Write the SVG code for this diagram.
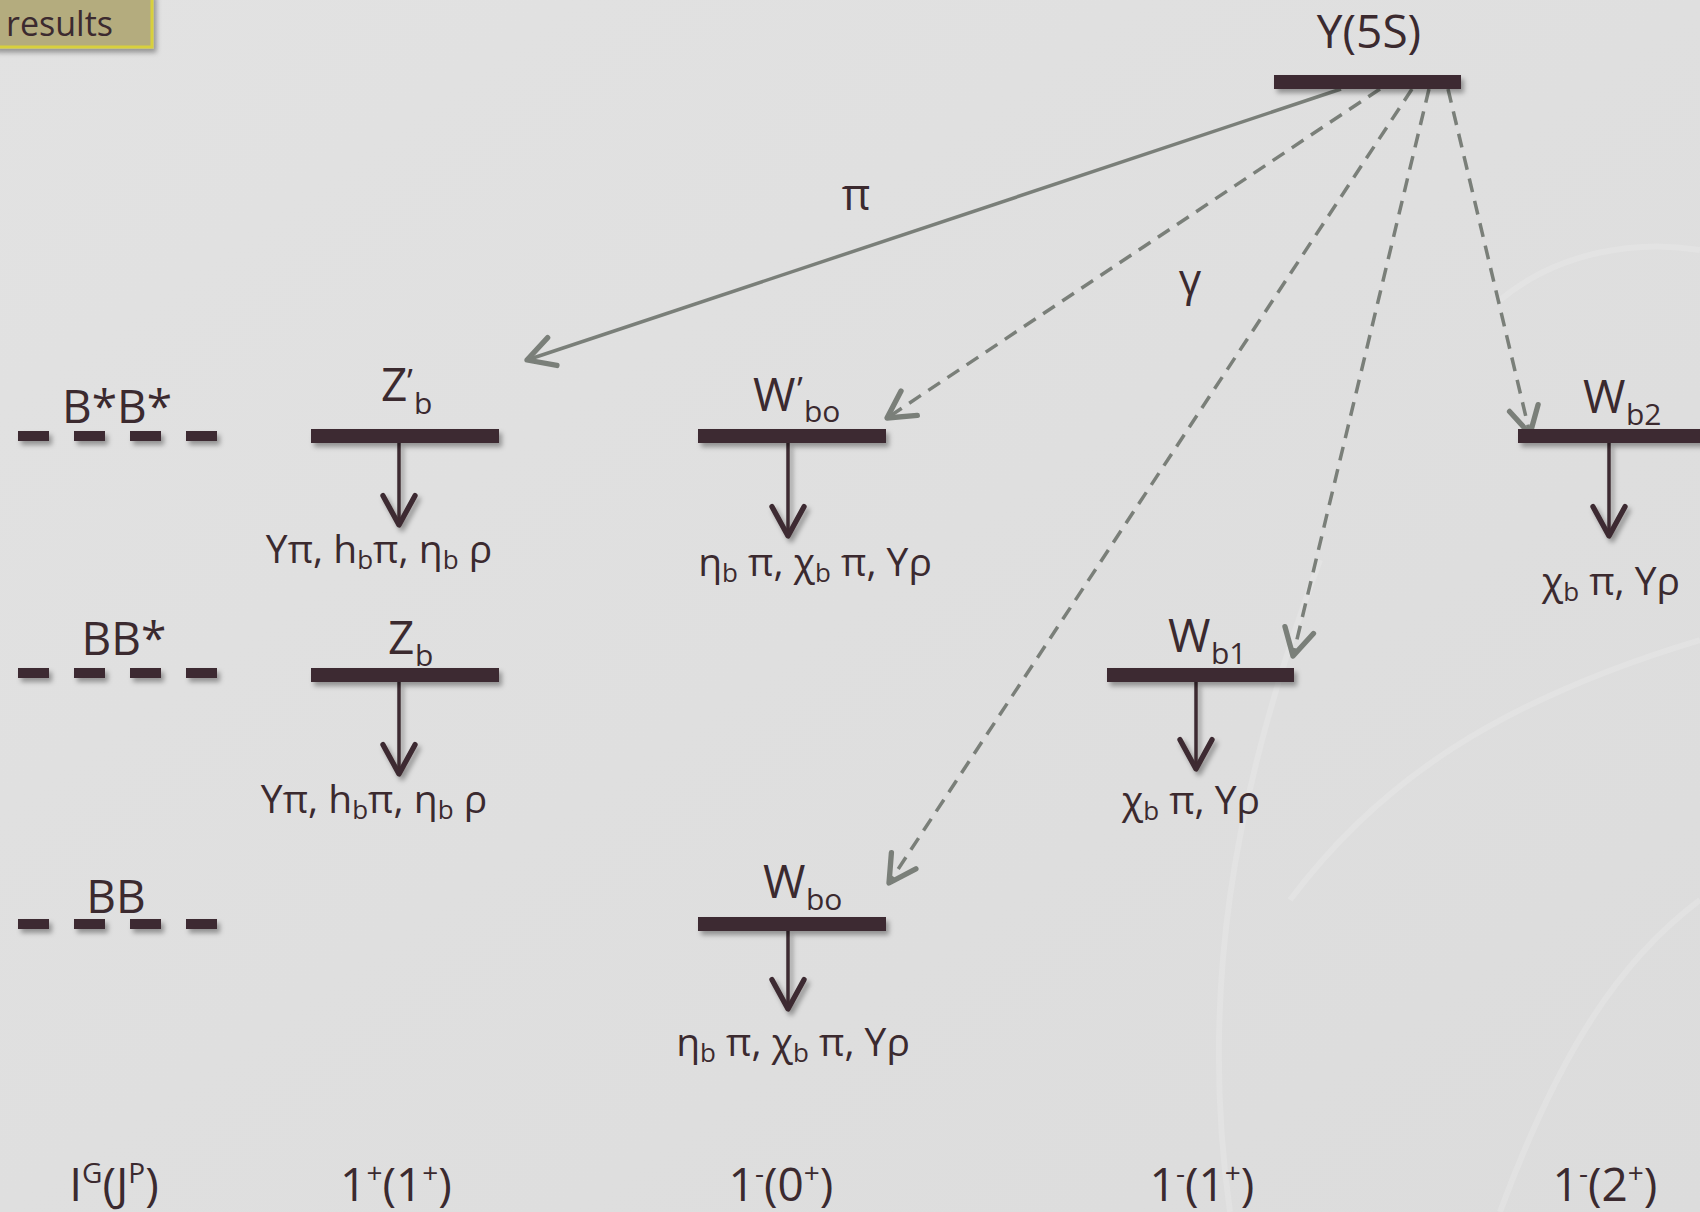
<svg xmlns="http://www.w3.org/2000/svg" width="1700" height="1212" viewBox="0 0 1700 1212">
<defs>
<style>
.t{font-family:"Open Sans","Noto Sans","DejaVu Sans",sans-serif;fill:#3b2a2f}
.big{font-size:46px}
.sub{font-size:30px}
.dec{font-size:39px}
.dsub{font-size:26px}
.bar{fill:#3d2b30}
.gray{stroke:#7a7f79;stroke-width:3.5;fill:none}
.dash{stroke-dasharray:14 9}
.stem{stroke:#3d2b30;stroke-width:3.5;fill:none}
</style>
<filter id="sh" x="-10%" y="-50%" width="130%" height="250%">
<feDropShadow dx="3" dy="4" stdDeviation="2.5" flood-color="#000" flood-opacity="0.35"/>
</filter>
<marker id="ga" markerUnits="userSpaceOnUse" orient="auto" refX="0" refY="0" markerWidth="40" markerHeight="40" viewBox="-25 -15 30 30" overflow="visible">
<path d="M-20,-11 L0,0 L-20,11" fill="none" stroke="#7a7f79" stroke-width="4" stroke-linecap="round" stroke-linejoin="round"/>
</marker>
<marker id="da" markerUnits="userSpaceOnUse" orient="auto" refX="0" refY="0" markerWidth="40" markerHeight="40" viewBox="-25 -15 30 30" overflow="visible">
<path d="M-22,-12 L0,0 L-22,12" fill="none" stroke="#3d2b30" stroke-width="4" stroke-linecap="round" stroke-linejoin="round"/>
</marker>
<linearGradient id="bg" x1="0" y1="0" x2="1" y2="1">
<stop offset="0" stop-color="#e2e2e2"/>
<stop offset="1" stop-color="#dcdcdc"/>
</linearGradient>
</defs>
<rect width="1700" height="1212" fill="url(#bg)"/>
<g id="background" fill="none" stroke="#ffffff" stroke-opacity="0.15" stroke-width="6">
<path d="M1230,1212 C1200,1000 1230,800 1320,560"/>
<path d="M1290,900 C1380,780 1500,700 1700,640"/>
<path d="M1500,1212 C1560,1050 1620,960 1700,900"/>
<path d="M1500,300 C1560,250 1640,240 1700,250"/>
</g>

<g id="results">
<rect x="-6" y="-6" width="158" height="53" fill="#b4ac7e" stroke="#d8d03c" stroke-width="3" filter="url(#sh)"/>
<text class="t" x="6" y="36" font-size="34">results</text>
</g>

<g id="connectors">
<line class="gray" x1="1341" y1="89" x2="527" y2="360" marker-end="url(#ga)"/>
<line class="gray dash" x1="1380" y1="89" x2="887" y2="418" marker-end="url(#ga)"/>
<line class="gray dash" x1="1412" y1="89" x2="889" y2="883" marker-end="url(#ga)"/>
<line class="gray dash" x1="1429" y1="89" x2="1293" y2="656" marker-end="url(#ga)"/>
<line class="gray dash" x1="1448" y1="89" x2="1530" y2="434" marker-end="url(#ga)"/>
<g filter="url(#sh)">
<line class="stem" x1="399" y1="443" x2="399" y2="525" marker-end="url(#da)"/>
<line class="stem" x1="788" y1="443" x2="788" y2="536" marker-end="url(#da)"/>
<line class="stem" x1="1609" y1="443" x2="1609" y2="536" marker-end="url(#da)"/>
<line class="stem" x1="399" y1="682" x2="399" y2="774" marker-end="url(#da)"/>
<line class="stem" x1="1196" y1="682" x2="1196" y2="769" marker-end="url(#da)"/>
<line class="stem" x1="788" y1="931" x2="788" y2="1009" marker-end="url(#da)"/>
</g>
<text class="t" x="856" y="210" font-size="44" text-anchor="middle">π</text>
<text class="t" x="1190" y="295" font-size="44" text-anchor="middle">γ</text>
</g>

<g id="Y5S">
<text class="t big" x="1369" y="48" text-anchor="middle">Υ(5S)</text>
<rect class="bar" x="1274" y="75" width="187" height="14" filter="url(#sh)"/>
</g>

<g id="thresholds" class="bar" filter="url(#sh)">
<rect x="18" y="431" width="31" height="10"/><rect x="74" y="431" width="31" height="10"/><rect x="130" y="431" width="31" height="10"/><rect x="186" y="431" width="31" height="10"/>
<rect x="18" y="668" width="31" height="10"/><rect x="74" y="668" width="31" height="10"/><rect x="130" y="668" width="31" height="10"/><rect x="186" y="668" width="31" height="10"/>
<rect x="18" y="919" width="31" height="10"/><rect x="74" y="919" width="31" height="10"/><rect x="130" y="919" width="31" height="10"/><rect x="186" y="919" width="31" height="10"/>
</g>
<g id="threshold-labels">
<text class="t big" x="117" y="423" text-anchor="middle">B*B*</text>
<text class="t big" x="124" y="655" text-anchor="middle">BB*</text>
<text class="t big" x="116" y="913" text-anchor="middle">BB</text>
</g>

<g id="Zb_prime">
<text class="t big" x="381" y="401">Z</text>
<text class="t" x="407" y="394" font-size="34">’</text>
<text class="t sub" x="414" y="414">b</text>
<rect class="bar" x="311" y="429" width="188" height="14" filter="url(#sh)"/>
<text class="t dec" x="379" y="563" text-anchor="middle">Υπ, h<tspan class="dsub" dy="6">b</tspan><tspan dy="-6">π,  η</tspan><tspan class="dsub" dy="6">b</tspan><tspan dy="-6"> ρ</tspan></text>
</g>

<g id="Wbo_prime">
<text class="t big" x="753" y="411">W</text>
<text class="t" x="797" y="402" font-size="34">’</text>
<text class="t sub" x="804" y="422">bo</text>
<rect class="bar" x="698" y="429" width="188" height="14" filter="url(#sh)"/>
<text class="t dec" x="815" y="576" text-anchor="middle">η<tspan class="dsub" dy="6">b</tspan><tspan dy="-6"> π, χ</tspan><tspan class="dsub" dy="6">b</tspan><tspan dy="-6"> π, Υρ</tspan></text>
</g>

<g id="Wb2">
<text class="t big" x="1583" y="413">W</text>
<text class="t sub" x="1626" y="425">b2</text>
<rect class="bar" x="1518" y="429" width="190" height="14" filter="url(#sh)"/>
<text class="t dec" x="1611" y="595" text-anchor="middle">χ<tspan class="dsub" dy="6">b</tspan><tspan dy="-6"> π, Υρ</tspan></text>
</g>

<g id="Zb">
<text class="t big" x="388" y="654">Z</text>
<text class="t sub" x="415" y="666">b</text>
<rect class="bar" x="311" y="668" width="188" height="14" filter="url(#sh)"/>
<text class="t dec" x="374" y="813" text-anchor="middle">Υπ, h<tspan class="dsub" dy="6">b</tspan><tspan dy="-6">π,  η</tspan><tspan class="dsub" dy="6">b</tspan><tspan dy="-6"> ρ</tspan></text>
</g>

<g id="Wb1">
<text class="t big" x="1168" y="652">W</text>
<text class="t sub" x="1211" y="664">b1</text>
<rect class="bar" x="1107" y="668" width="187" height="14" filter="url(#sh)"/>
<text class="t dec" x="1191" y="814" text-anchor="middle">χ<tspan class="dsub" dy="6">b</tspan><tspan dy="-6"> π, Υρ</tspan></text>
</g>

<g id="Wbo">
<text class="t big" x="763" y="898">W</text>
<text class="t sub" x="806" y="910">bo</text>
<rect class="bar" x="698" y="917" width="188" height="14" filter="url(#sh)"/>
<text class="t dec" x="793" y="1056" text-anchor="middle">η<tspan class="dsub" dy="6">b</tspan><tspan dy="-6"> π, χ</tspan><tspan class="dsub" dy="6">b</tspan><tspan dy="-6"> π, Υρ</tspan></text>
</g>

<g id="quantum-numbers">
<text class="t big" x="114" y="1201" text-anchor="middle">I<tspan font-size="28" dy="-18">G</tspan><tspan dy="18">(J</tspan><tspan font-size="28" dy="-18">P</tspan><tspan dy="18">)</tspan></text>
<text class="t big" x="396" y="1201" text-anchor="middle">1<tspan font-size="28" dy="-18">+</tspan><tspan dy="18">(1</tspan><tspan font-size="28" dy="-18">+</tspan><tspan dy="18">)</tspan></text>
<text class="t big" x="781" y="1201" text-anchor="middle">1<tspan font-size="28" dy="-18">-</tspan><tspan dy="18">(0</tspan><tspan font-size="28" dy="-18">+</tspan><tspan dy="18">)</tspan></text>
<text class="t big" x="1202" y="1201" text-anchor="middle">1<tspan font-size="28" dy="-18">-</tspan><tspan dy="18">(1</tspan><tspan font-size="28" dy="-18">+</tspan><tspan dy="18">)</tspan></text>
<text class="t big" x="1605" y="1201" text-anchor="middle">1<tspan font-size="28" dy="-18">-</tspan><tspan dy="18">(2</tspan><tspan font-size="28" dy="-18">+</tspan><tspan dy="18">)</tspan></text>
</g>
</svg>
